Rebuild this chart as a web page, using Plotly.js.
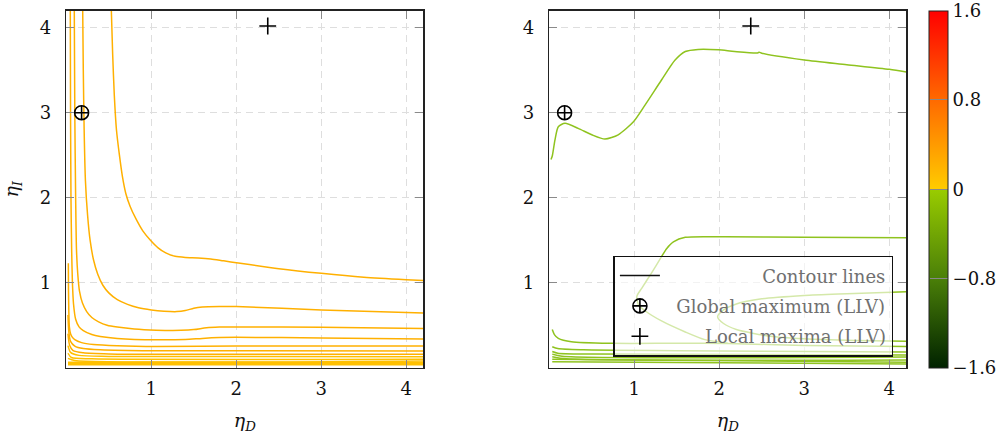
<!DOCTYPE html>
<html><head><meta charset="utf-8">
<script src="https://cdn.plot.ly/plotly-3.0.1.min.js"></script>
<style>html,body{margin:0;padding:0;background:#fff}#chart{width:1008px;height:436px}</style>
</head><body><div id="chart"></div>
<script>
// ---------- data ----------
const axisTicks = [1, 2, 3, 4];
const axisTickText = ['1', '2', '3', '4'];
const cbTicks = [-1.6, -0.8, 0, 0.8, 1.6];
const cbTickText = ['\u22121.6', '\u22120.8', '0', '0.8', '1.6'];

const globalMaxX = [0.18];
const globalMaxY = [3.0];
const localMaxX = [2.37];
const localMaxY = [4.02];

// left panel contour lines (eta_D, eta_I)
const leftA_x = [0.53,0.545,0.565,0.59,0.625,0.66,0.70,0.75,0.82,0.90,0.99,1.08,1.17,1.28,1.4,1.55,1.7,1.85,2.0,2.5,3.0,3.5,4.0,4.2];
const leftA_y = [4.2,3.7,3.2,2.8,2.5,2.25,2.05,1.9,1.75,1.61,1.50,1.41,1.35,1.31,1.297,1.292,1.28,1.257,1.235,1.165,1.11,1.065,1.035,1.025];
const leftB_x = [0.193,0.20,0.21,0.225,0.25,0.28,0.32,0.37,0.43,0.5,0.6,0.72,0.85,1.0,1.15,1.3,1.4,1.5,1.6,1.8,2.0,3.0,4.2];
const leftB_y = [4.2,3.5,2.8,2.2,1.8,1.5,1.27,1.10,0.97,0.88,0.80,0.745,0.705,0.68,0.665,0.66,0.672,0.70,0.714,0.72,0.72,0.68,0.645];
const leftC_x = [0.094,0.10,0.11,0.12,0.135,0.155,0.19,0.24,0.3,0.38,0.48,0.6,0.8,1.06,1.35,1.5,1.65,1.8,2.0,3.0,4.2];
const leftC_y = [4.2,3.0,2.0,1.385,1.1,0.90,0.76,0.66,0.59,0.54,0.50,0.478,0.455,0.442,0.44,0.448,0.47,0.478,0.48,0.475,0.46];
const leftD_x = [0.047,0.05,0.055,0.063,0.072,0.085,0.11,0.15,0.2,0.3,0.4,0.6,1.06,1.4,1.6,1.8,2.0,3.0,4.2];
const leftD_y = [4.2,3.0,2.0,1.385,1.0,0.75,0.57,0.48,0.435,0.39,0.368,0.345,0.328,0.332,0.345,0.354,0.357,0.35,0.338];
const leftE_x = [0.024,0.026,0.03,0.036,0.05,0.07,0.1,0.18,0.32,0.6,1.06,2.0,4.2];
const leftE_y = [1.23,0.9,0.65,0.48,0.40,0.36,0.33,0.295,0.273,0.258,0.249,0.255,0.255];
const leftF_x = [0.02,0.03,0.05,0.1,0.2,0.4,1.0,2.0,4.2];
const leftF_y = [0.62,0.42,0.31,0.255,0.225,0.21,0.198,0.2,0.196];
const leftG_x = [0.02,0.04,0.08,0.2,0.5,1.5,4.2];
const leftG_y = [0.40,0.26,0.2,0.175,0.162,0.157,0.157];
const leftH_x = [0.02,0.05,0.15,0.5,4.2];
const leftH_y = [0.26,0.18,0.145,0.133,0.13];
const leftI_x = [0.02,0.06,0.3,4.2];
const leftI_y = [0.17,0.12,0.105,0.10];
const leftJ_x = [0.02,0.1,4.2];
const leftJ_y = [0.11,0.085,0.08];
const leftK_x = [0.02,4.2];
const leftK_y = [0.065,0.062];
const leftL_x = [0.02,4.2];
const leftL_y = [0.048,0.047];
const leftM_x = [0.02,4.2];
const leftM_y = [0.035,0.035];

// right panel contour lines
const rightA_x = [0.02,0.035,0.067,0.106,0.185,0.34,0.5,0.655,0.81,0.99,1.126,1.32,1.48,1.6,1.75,1.99,2.18,2.45,2.47,2.5,3.0,3.5,4.0,4.2];
const rightA_y = [2.45,2.49,2.68,2.835,2.875,2.816,2.74,2.69,2.74,2.894,3.09,3.385,3.62,3.72,3.745,3.74,3.72,3.703,3.712,3.70,3.62,3.565,3.51,3.48];
const rightB_x = [4.2,3.0,2.07,1.6,1.46,1.38,1.32,1.2,1.087,1.03,1.05,1.126,1.32,1.6,1.83,2.1];
const rightB_y = [1.53,1.535,1.54,1.534,1.48,1.40,1.306,1.11,0.934,0.84,0.74,0.67,0.55,0.42,0.33,0.288];
const rightC_x = [4.2,3.5,3.0,2.5,2.2,2.05,1.98,2.05,2.2,2.6,3.0,3.6,4.2];
const rightC_y = [0.894,0.87,0.85,0.81,0.75,0.68,0.6,0.52,0.45,0.37,0.34,0.32,0.31];
const rightD_x = [0.035,0.06,0.106,0.26,0.73,1.5,2.1,3.0,4.2];
const rightD_y = [0.45,0.39,0.346,0.306,0.287,0.287,0.285,0.262,0.248];
const rightE_x = [0.035,0.1,0.4,1.5,4.2];
const rightE_y = [0.247,0.225,0.21,0.2,0.185];
const rightF_x = [0.035,0.1,0.5,4.2];
const rightF_y = [0.19,0.17,0.16,0.15];
const rightG_x = [0.035,0.15,4.2];
const rightG_y = [0.16,0.135,0.125];
const rightH_x = [0.035,0.2,4.2];
const rightH_y = [0.13,0.105,0.09];
const rightI_x = [0.035,4.2];
const rightI_y = [0.10,0.065];
const rightJ_x = [0.035,4.2];
const rightJ_y = [0.07,0.045];

// ---------- styling ----------
const SERIF = 'DejaVu Serif, Liberation Serif, serif';
const FS = 18;
const leftColor = '#ffb000';
const leftColorLow = '#ffc000';
const rightColor = '#8fc31f';

const W = 1008, H = 436;
const M = {l: 40, r: 0, t: 10, b: 60, autoexpand: false};
const PW = W - M.l - M.r, PH = H - M.t - M.b;
const fx = px => (px - M.l) / PW;
const fy = py => (H - M.b - py) / PH;

const traces = [];
function contour(xs, ys, color, xa, ya) {
  traces.push({x: xs, y: ys, type: 'scatter', mode: 'lines', xaxis: xa, yaxis: ya,
    line: {color: color, width: 1.5, shape: 'spline', smoothing: 0.7},
    showlegend: false, hoverinfo: 'skip'});
}
[[leftA_x,leftA_y,leftColor],[leftB_x,leftB_y,leftColor],[leftC_x,leftC_y,leftColor],
 [leftD_x,leftD_y,leftColor],[leftE_x,leftE_y,leftColor],[leftF_x,leftF_y,leftColor],
 [leftG_x,leftG_y,leftColor],[leftH_x,leftH_y,leftColorLow],[leftI_x,leftI_y,leftColorLow],
 [leftJ_x,leftJ_y,leftColorLow],[leftK_x,leftK_y,leftColorLow],[leftL_x,leftL_y,leftColorLow],
 [leftM_x,leftM_y,leftColorLow]].forEach(a => contour(a[0], a[1], a[2], 'x', 'y'));
[[rightA_x,rightA_y],[rightB_x,rightB_y],[rightC_x,rightC_y],[rightD_x,rightD_y],
 [rightE_x,rightE_y],[rightF_x,rightF_y],[rightG_x,rightG_y],[rightH_x,rightH_y],
 [rightI_x,rightI_y],[rightJ_x,rightJ_y]].forEach(a => contour(a[0], a[1], rightColor, 'x2', 'y2'));

// legend names padded so text is right-aligned like the reference
const names = ['Contour lines', 'Global maximum (LLV)', 'Local maxima (LLV)'];
const cv = document.createElement('canvas').getContext('2d');
cv.font = FS + 'px "DejaVu Serif"';
const wMax = Math.max(...names.map(n => cv.measureText(n).width));
const wSp = cv.measureText('\u00a0').width;
const padded = names.map(n => '\u00a0'.repeat(2 + Math.round((wMax - cv.measureText(n).width) / wSp)) + n);

// legend entry: contour lines
traces.push({x: [null], y: [null], type: 'scatter', mode: 'lines', xaxis: 'x2', yaxis: 'y2',
  line: {color: '#111', width: 1.5}, name: padded[0], legendgroup: 'a', showlegend: true});
// markers
const gmStyle = {symbol: 'circle-cross-open', size: 14, color: '#000', line: {width: 1.6, color: '#000'}};
const lmStyle = {symbol: 'cross-thin-open', size: 12, color: '#000', line: {width: 1.6, color: '#000'}};
traces.push({x: globalMaxX, y: globalMaxY, type: 'scatter', mode: 'markers', xaxis: 'x', yaxis: 'y',
  marker: gmStyle, showlegend: false, hoverinfo: 'skip'});
traces.push({x: globalMaxX, y: globalMaxY, type: 'scatter', mode: 'markers', xaxis: 'x2', yaxis: 'y2',
  marker: gmStyle, name: padded[1], legendgroup: 'b', showlegend: true, hoverinfo: 'skip'});
traces.push({x: localMaxX, y: localMaxY, type: 'scatter', mode: 'markers', xaxis: 'x', yaxis: 'y',
  marker: lmStyle, showlegend: false, hoverinfo: 'skip'});
traces.push({x: localMaxX, y: localMaxY, type: 'scatter', mode: 'markers', xaxis: 'x2', yaxis: 'y2',
  marker: lmStyle, name: padded[2], legendgroup: 'c', showlegend: true, hoverinfo: 'skip'});

// colorbar carrier
const colorscale = [[0, '#002200'], [0.25, '#4a7f08'], [0.5, '#99cc00'], [0.5, '#ffcc00'], [0.75, '#ff6a00'], [1, '#ff0000']];
traces.push({x: [null], y: [null], type: 'scatter', mode: 'markers', xaxis: 'x2', yaxis: 'y2',
  showlegend: false, hoverinfo: 'skip',
  marker: {color: [0], cmin: -1.6, cmax: 1.6, colorscale: colorscale, showscale: true,
    colorbar: {x: fx(929.3), xanchor: 'left', xref: 'paper', y: fy(10.7), yanchor: 'top', yref: 'paper',
      len: (368 - 10.7) / PH, lenmode: 'fraction', thickness: 18.5, thicknessmode: 'pixels',
      outlinecolor: '#222', outlinewidth: 1, borderwidth: 0, xpad: 0, ypad: 0,
      tickvals: cbTicks, ticktext: cbTickText, ticks: 'inside', ticklen: 18.5, tickcolor: '#888', tickwidth: 1,
      tickfont: {family: SERIF, size: FS, color: '#111'}, ticklabelstandoff: 9}}});

function axisBase(domain, anchor, standoff) {
  return {domain: domain, anchor: anchor, range: [0, 4.2], tickvals: axisTicks, ticktext: axisTickText,
    ticks: 'inside', ticklen: 8, tickwidth: 1.5, tickcolor: '#8a8a8a', showline: true, linecolor: '#222',
    linewidth: 1.6, mirror: 'ticks', showgrid: true, gridcolor: '#dedede', gridwidth: 1.2, griddash: '7px,5px',
    zeroline: false, tickfont: {family: SERIF, size: FS, color: '#111'}, ticklabelstandoff: standoff,
    automargin: false};
}
const xA = axisBase([fx(66.3), fx(423.3)], 'y', 4);
xA.title = {text: '<i>η</i><sub><i>D</i></sub>', font: {family: SERIF, size: 19, color: '#111'}, standoff: 16};
const xB = axisBase([fx(549.3), fx(906.3)], 'y2', 4);
xB.title = {text: '<i>η</i><sub><i>D</i></sub>', font: {family: SERIF, size: 19, color: '#111'}, standoff: 16};
const yDom = [fy(367.7), fy(10.7)];
const yA = axisBase(yDom, 'x', 10);
yA.title = {text: '<i>η</i><sub><i>I</i></sub>', font: {family: SERIF, size: 19, color: '#111'}, standoff: 17};
const yB = axisBase(yDom, 'x2', 10);

const layout = {
  width: W, height: H, margin: M, paper_bgcolor: '#fff', plot_bgcolor: '#fff',
  font: {family: SERIF},
  xaxis: xA, yaxis: yA, xaxis2: xB, yaxis2: yB,
  showlegend: true,
  legend: {x: fx(613.3), y: fy(255.7), xanchor: 'left', yanchor: 'top', xref: 'paper', yref: 'paper',
    bgcolor: 'rgba(255,255,255,0.62)', bordercolor: '#111', borderwidth: 1.6,
    font: {family: SERIF, size: FS, color: '#707070'}, tracegroupgap: 4, traceorder: 'grouped',
    itemwidth: 40}
};

Plotly.newPlot('chart', traces, layout, {staticPlot: true, displayModeBar: false});
</script></body></html>
